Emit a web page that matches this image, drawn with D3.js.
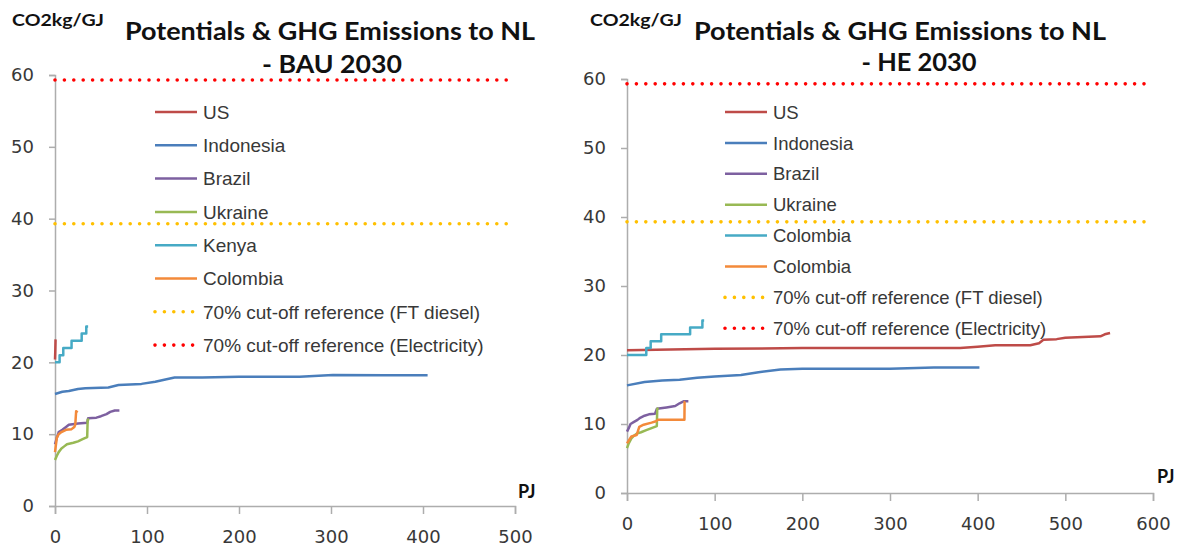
<!DOCTYPE html>
<html><head><meta charset="utf-8">
<script src="https://cdn.jsdelivr.net/npm/d3@7"></script>
<style>body{margin:0;background:#fff} svg{display:block}</style>
</head><body>
<svg id="c" width="1178" height="546"></svg>
<script>
// ---------- DATA ----------
const yTicks = [0, 10, 20, 30, 40, 50, 60];
const xTicksBAU = [0, 100, 200, 300, 400, 500];
const xTicksHE = [0, 100, 200, 300, 400, 500, 600];
const refFT = 39.3;     // 70% cut-off reference (FT diesel)
const refElec = 59.3;   // 70% cut-off reference (Electricity)
const titleBAU = ["Potentials & GHG Emissions to NL", "- BAU 2030"];
const titleHE = ["Potentials & GHG Emissions to NL", "- HE 2030"];
const yUnit = "CO2kg/GJ";
const xUnit = "PJ";
const legendBAU = ["US", "Indonesia", "Brazil", "Ukraine", "Kenya", "Colombia",
  "70% cut-off reference (FT diesel)", "70% cut-off reference (Electricity)"];
const legendHE = ["US", "Indonesia", "Brazil", "Ukraine", "Colombia", "Colombia",
  "70% cut-off reference (FT diesel)", "70% cut-off reference (Electricity)"];

// BAU 2030 supply curves  [PJ, CO2kg/GJ]
const bauUS = [[0,20.4],[0.3,21.5],[0.6,23.2]];
const bauIndonesia = [[0,15.6],[8,15.9],[15,16.0],[25,16.3],[33,16.4],[58,16.5],[69,16.85],[94,17.0],[109,17.3],[120,17.6],[130,17.9],[160,17.9],[200,18.0],[266,18.0],[302,18.25],[360,18.2],[405,18.2]];
const bauBrazil = [[0,8.6],[2,9.5],[4,10.3],[8,10.6],[12,11.0],[15,11.3],[25,11.5],[35,11.6],[36,12.2],[45,12.3],[50,12.5],[56,12.8],[60,13.1],[65,13.3],[70,13.3]];
const bauUkraine = [[0,6.4],[2,7.0],[4,7.5],[7,8.0],[10,8.3],[13,8.6],[20,8.8],[25,9.0],[30,9.3],[35,9.6],[35.5,12.0],[37,12.1]];
const bauKenya = [[0,20],[5,20],[5,21],[9,21],[9,22],[18,22],[18,23],[29,23],[29,24],[34,24],[34,25],[36,25]];
const bauColombia = [[0,7.5],[1,8.5],[2,9.5],[4,10.0],[7,10.3],[12,10.6],[18,10.7],[21,11.0],[22,11.3],[23,13.2],[24.5,13.0]];

// HE 2030 supply curves
const heUS = [[0,20.7],[50,20.8],[100,20.9],[200,21.0],[300,21.0],[380,21.0],[400,21.2],[420,21.4],[460,21.4],[470,21.7],[475,22.2],[490,22.3],[500,22.5],[540,22.7],[545,23.0],[551,23.2]];
const heIndonesia = [[0,15.6],[20,16.1],[40,16.3],[60,16.4],[80,16.7],[100,16.9],[130,17.1],[150,17.5],[175,17.9],[200,18.0],[300,18.0],[350,18.2],[402,18.2]];
const heBrazil = [[0,8.9],[2,9.4],[4,10.0],[8,10.3],[12,10.6],[15,10.9],[20,11.2],[25,11.4],[32,11.5],[34,12.2],[45,12.4],[55,12.6],[60,13.0],[65,13.3],[70,13.3]];
const heUkraine = [[0,6.5],[2,7.2],[5,7.9],[8,8.3],[11,8.6],[16,8.8],[22,9.1],[28,9.4],[34,9.7],[34.5,12.2],[36,12.3]];
const heColombiaA = [[0,20],[22,20],[22,21],[27,21],[27,22],[39,22],[39,23],[72,23],[72,24],[86,24],[86,25],[88,25]];
const heColombiaB = [[0,7.2],[3,7.8],[5,8.2],[11,8.4],[14,9.6],[19,9.9],[28,10.2],[33,10.4],[35,10.6],[65.5,10.6],[65.7,13.2],[66.5,13.2]];

// ---------- STYLE ----------
const seriesColors = ["#BE4B48", "#4A7EBB", "#7D60A0", "#98B954", "#46AAC5", "#F38A3A"];
const ftColor = "#FFC000", elecColor = "#FF0000";
const axisColor = "#ADADAD", textColor = "#383838";

const svg = d3.select("#c");

function panel(cfg) {
  const x = d3.scaleLinear().domain(cfg.xDomain).range([cfg.x0, cfg.x1]);
  const y = d3.scaleLinear().domain([0, 60]).range([cfg.y0, cfg.y1]);
  const g = svg.append("g");

  // axes
  const ya = g.append("g").attr("transform", `translate(${cfg.x0},0)`)
    .call(d3.axisLeft(y).tickValues(yTicks).tickSize(6).tickPadding(15).tickFormat(d3.format("d")));
  const xa = g.append("g").attr("transform", `translate(0,${cfg.y0})`)
    .call(d3.axisBottom(x).tickValues(cfg.xTicks).tickSize(8).tickPadding(16).tickFormat(d3.format("d")));
  [ya, xa].forEach(a => {
    a.select(".domain").attr("stroke", axisColor).attr("stroke-width", 1.5);
    a.selectAll(".tick line").attr("stroke", axisColor).attr("stroke-width", 1.5);
    a.selectAll(".tick text").attr("fill", textColor)
      .style("font-family", "'DejaVu Sans', Verdana, sans-serif").style("font-size", "18px");
  });

  const line = d3.line().x(d => x(d[0])).y(d => y(d[1]));

  // reference dotted lines
  const dotted = (col) => ({stroke: col, "stroke-width": 3.6, "stroke-linecap": "round", "stroke-dasharray": "0 9.4", fill: "none"});
  const applyAttrs = (sel, o) => { Object.entries(o).forEach(([k, v]) => sel.attr(k, v)); return sel; };
  applyAttrs(g.append("path").attr("d", line([[0, refFT], [cfg.refEnd, refFT]])), dotted(ftColor));
  applyAttrs(g.append("path").attr("d", line([[0, refElec], [cfg.refEnd, refElec]])), dotted(elecColor));

  // series
  cfg.series.forEach((s, i) => {
    g.append("path").attr("d", line(s)).attr("fill", "none")
      .attr("stroke", seriesColors[i]).attr("stroke-width", 2.5).attr("stroke-linejoin", "round");
  });

  // legend
  cfg.legend.forEach((lab, i) => {
    const ry = cfg.legY + i * cfg.legStep;
    const ln = g.append("line").attr("x1", cfg.legX0).attr("x2", cfg.legX1).attr("y1", ry).attr("y2", ry);
    if (i < 6) ln.attr("stroke", seriesColors[i]).attr("stroke-width", 2.5);
    else applyAttrs(ln, dotted(i === 6 ? ftColor : elecColor));
    g.append("text").attr("x", cfg.legX1 + 6).attr("y", ry).attr("dy", "0.36em")
      .attr("fill", textColor).style("font-family", "'Liberation Sans', Arial, sans-serif")
      .style("font-size", cfg.legFont + "px").text(lab);
  });

  // titles
  const tfont = "Lato, 'Open Sans', sans-serif";
  g.append("text").attr("x", cfg.tx).attr("y", 40).attr("text-anchor", "middle")
    .style("font-family", tfont).style("font-weight", 700).style("font-size", "25px")
    .attr("fill", "#111").attr("textLength", cfg.tw).attr("lengthAdjust", "spacingAndGlyphs").text(cfg.title[0]);
  g.append("text").attr("x", cfg.tx2).attr("y", cfg.t2y).attr("text-anchor", "middle")
    .style("font-family", tfont).style("font-weight", 700).style("font-size", "25px")
    .attr("fill", "#111").attr("textLength", cfg.tw2).attr("lengthAdjust", "spacingAndGlyphs").text(cfg.title[1]);
  g.append("text").attr("x", cfg.ux).attr("y", 26)
    .style("font-family", tfont).style("font-weight", 700).style("font-size", "17px")
    .attr("fill", "#111").attr("textLength", 92).attr("lengthAdjust", "spacingAndGlyphs").text(yUnit);
  g.append("text").attr("x", cfg.pjx).attr("y", cfg.pjy)
    .style("font-family", tfont).style("font-weight", 700).style("font-size", "18px")
    .attr("fill", "#111").text(xUnit);
}

panel({
  xDomain: [0, 500], xTicks: xTicksBAU, x0: 55, x1: 515, y0: 506, y1: 75, refEnd: 497,
  series: [bauUS, bauIndonesia, bauBrazil, bauUkraine, bauKenya, bauColombia],
  legend: legendBAU, legX0: 155, legX1: 197, legY: 112, legStep: 33.3, legFont: 19,
  title: titleBAU, tx: 330, tw: 410, tx2: 332, tw2: 140, t2y: 73, ux: 12, pjx: 518, pjy: 498
});
panel({
  xDomain: [0, 600], xTicks: xTicksHE, x0: 627, x1: 1153, y0: 493, y1: 79, refEnd: 600,
  series: [heUS, heIndonesia, heBrazil, heUkraine, heColombiaA, heColombiaB],
  legend: legendHE, legX0: 725, legX1: 767, legY: 112, legStep: 30.9, legFont: 18.5,
  title: titleHE, tx: 900, tw: 412, tx2: 919, tw2: 115, t2y: 71, ux: 590, pjx: 1157, pjy: 483
});
</script>
</body></html>
